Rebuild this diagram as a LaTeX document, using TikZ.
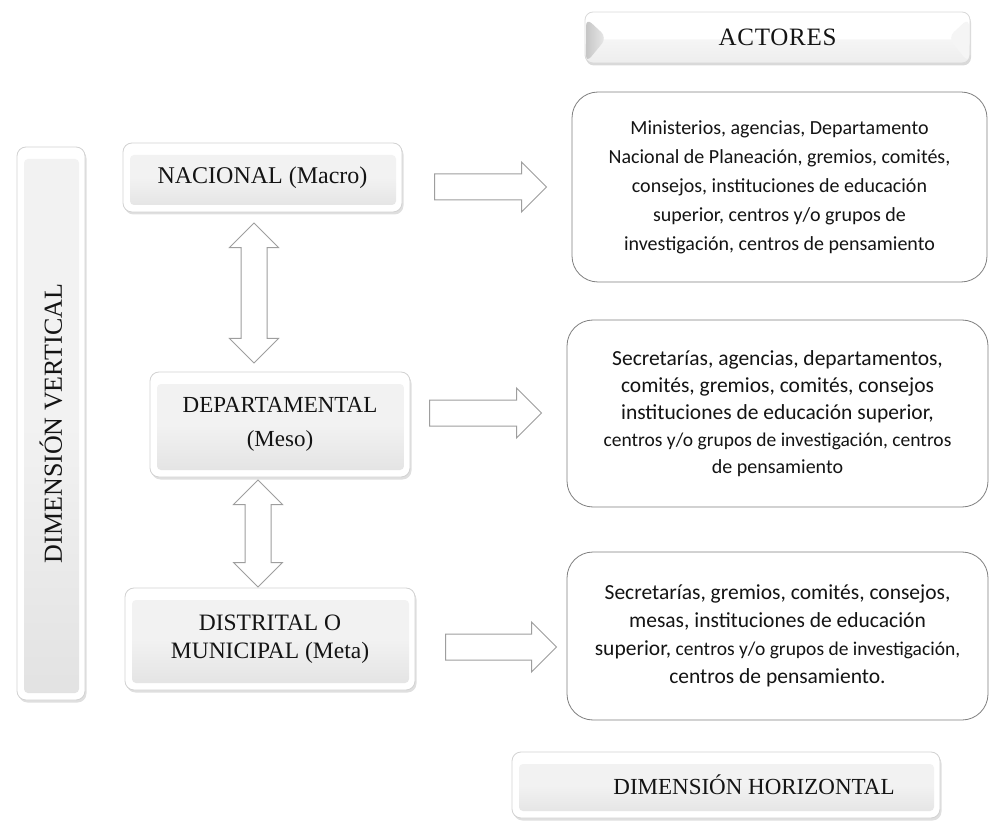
\documentclass[tikz,border=0pt]{standalone}
\usepackage{fontspec}
\setmainfont{Liberation Serif}
\newfontfamily\calib{Carlito}
\usetikzlibrary{shapes.arrows,shadows,calc}
\definecolor{panel}{HTML}{F2F2F2}
\definecolor{panelbot}{HTML}{E2E2E2}
\definecolor{arrowgray}{HTML}{9E9E9E}
\definecolor{boxline}{HTML}{7F7F7F}
\definecolor{txt}{HTML}{141414}
\tikzset{
  bevel/.style={rectangle, rounded corners=9pt, draw=gray!35, fill=white, line width=0.8pt,
    drop shadow={opacity=0.25, shadow xshift=1.5pt, shadow yshift=-2.5pt},
    path picture={
      \shade[top color=panel, bottom color=panelbot, middle color=panel, rounded corners=4pt]
        ($(path picture bounding box.north west)+(7pt,-12pt)$) rectangle ($(path picture bounding box.south east)+(-6pt,7pt)$);
    },
    text=txt, align=center, inner sep=0pt},
  actbox/.style={rectangle, rounded corners=8pt, draw=gray!30, fill=white, line width=0.8pt,
    drop shadow={opacity=0.3, shadow xshift=1pt, shadow yshift=-2.5pt},
    path picture={
      \shade[top color=white, bottom color=white!93!black]
        ($(path picture bounding box.west)+(0,-2pt)$) rectangle (path picture bounding box.south east);
      \shade[left color=gray!45, right color=gray!15]
        ($(path picture bounding box.north west)+(1pt,-6pt)$) -- ($(path picture bounding box.west)+(22pt,0)$) -- ($(path picture bounding box.south west)+(1pt,0)$) -- cycle;
      \fill[gray!8]
        ($(path picture bounding box.north east)+(-1pt,-6pt)$) -- ($(path picture bounding box.east)+(-22pt,0)$) -- ($(path picture bounding box.south east)+(-1pt,0)$) -- cycle;
    },
    text=txt, inner sep=0pt},
  actorbox/.style={rectangle, rounded corners=26pt, draw=boxline, line width=0.8pt, fill=white,
    align=center, inner sep=0pt, text=txt},
  harrow/.style={single arrow, draw=arrowgray, fill=white, line width=1pt,
    inner xsep=0pt, inner ysep=12.5pt, single arrow head extend=12pt, minimum height=112pt, outer sep=0pt},
  varrow/.style={double arrow, rotate=90, draw=arrowgray, fill=white, line width=1pt,
    inner xsep=0pt, inner ysep=12.5pt, double arrow head extend=11.5pt, outer sep=0pt},
}
\begin{document}
\begin{tikzpicture}[x=1pt,y=-1pt]
\useasboundingbox (0,0) rectangle (989,821);

% header box
\node[actbox, minimum width=385pt, minimum height=51pt, font=\fontsize{25}{30}\selectfont\addfontfeatures{LetterSpace=3}] (act) at (777.5,37.5) {ACTORES};

% vertical dimension
\node[bevel, minimum width=68pt, minimum height=553pt, font=\fontsize{26}{30}\selectfont] (vert) at (51,423.5)
  {\rotatebox{90}{DIMENSIÓN VERTICAL}};

% level boxes
\node[bevel, minimum width=279pt, minimum height=69pt, font=\fontsize{24}{28}\selectfont] (nac) at (262.5,177.5) {NACIONAL (Macro)};
\node[bevel, minimum width=260pt, minimum height=105pt, font=\fontsize{23}{34}\selectfont] (dep) at (280,424.5) {DEPARTAMENTAL\\(Meso)};
\node[bevel, minimum width=290pt, minimum height=102pt, font=\fontsize{23.5}{28}\selectfont] (dis) at (270,639) {DISTRITAL O\\MUNICIPAL (Meta)};

% actor boxes
\node[actorbox, minimum width=415pt, minimum height=190pt, font=\calib\fontsize{20}{29}\selectfont] (r1) at (779.5,187)
  {Ministerios, agencias, Departamento\\ Nacional de Planeación, gremios, comités,\\ consejos, instituciones de educación\\ superior, centros y/o grupos de\\ investigación, centros de pensamiento};
\node[actorbox, minimum width=421pt, minimum height=187pt, font=\calib\fontsize{21.5}{27}\selectfont] (r2) at (777.5,413.5)
  {Secretarías, agencias, departamentos,\\ comités, gremios, comités, consejos\\ instituciones de educación superior,\\ {\fontsize{19.5}{27}\selectfont centros y/o grupos de investigación, centros}\\ {\fontsize{20}{27}\selectfont de pensamiento}};
\node[actorbox, minimum width=421pt, minimum height=168pt, font=\calib\fontsize{21.5}{28}\selectfont] (r3) at (777.5,636)
  {Secretarías, gremios, comités, consejos,\\ mesas, instituciones de educación\\ superior,{\fontsize{19.5}{28}\selectfont{} centros y/o grupos de investigación,}\\ centros de pensamiento.};

% horizontal dimension
\node[bevel, minimum width=428pt, minimum height=66pt, font=\fontsize{23}{28}\selectfont] (hor) at (726,785) {\hspace*{56pt}DIMENSIÓN HORIZONTAL};

% horizontal block arrows
\node[harrow] (a1) at (484,187) {};
\node[harrow] (a2) at (479,413) {};
\node[harrow, minimum height=111pt] (a3) at (494.5,647) {};

% vertical double block arrows
\node[varrow, minimum height=140pt] (d1) at (254,293) {};
\node[varrow, minimum height=107pt] (d2) at (258,533.5) {};
\end{tikzpicture}
\end{document}
